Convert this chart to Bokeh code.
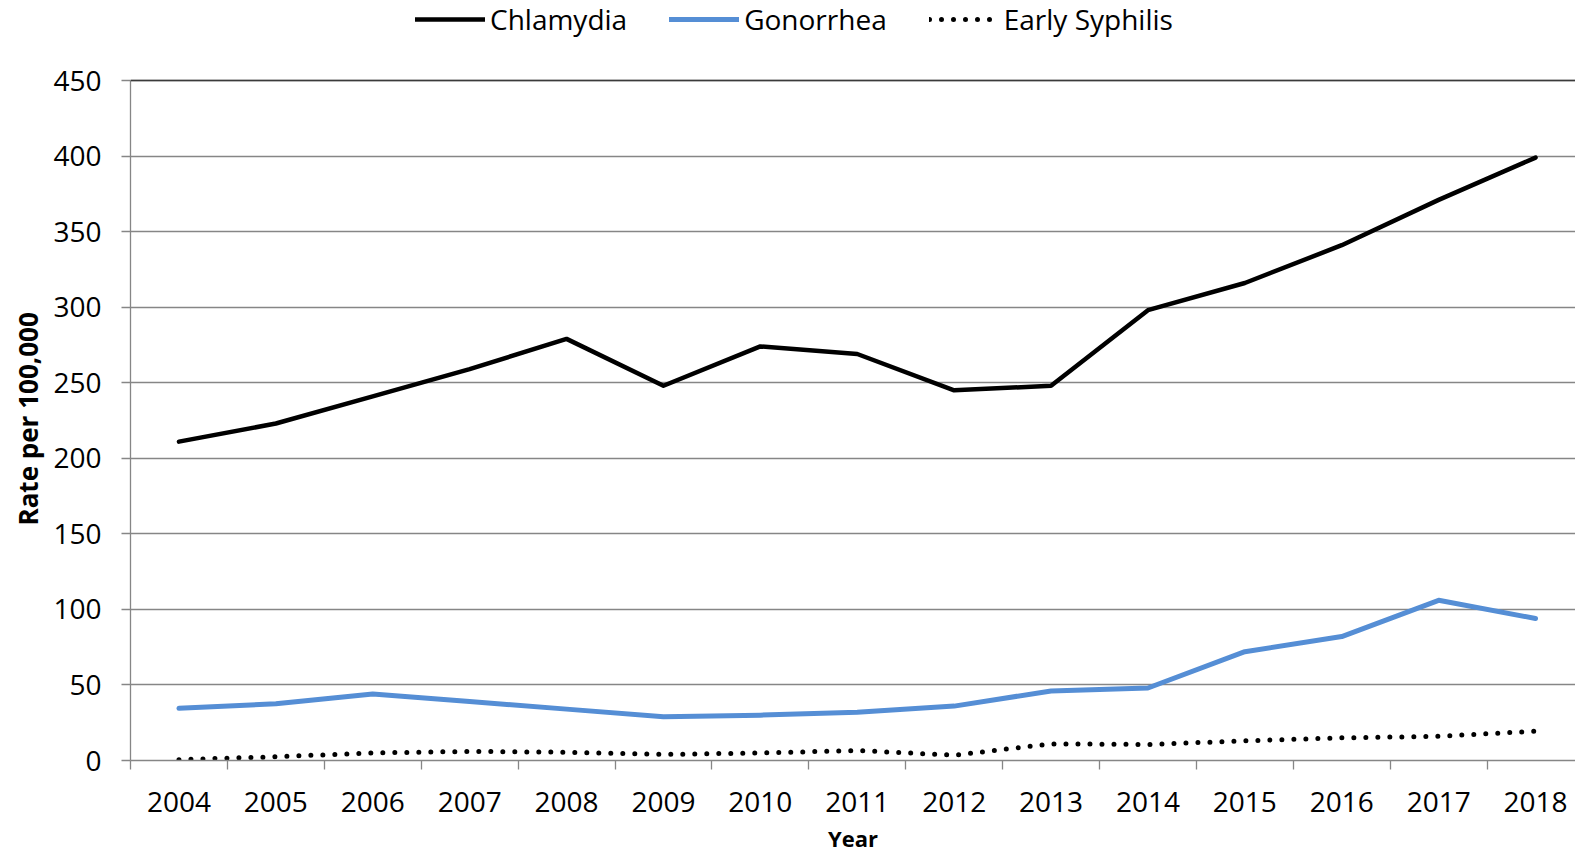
from bokeh.plotting import figure
from bokeh.models import Range1d, FixedTicker, Span, Legend, LegendItem, Title
from bokeh.embed import file_html
from bokeh.resources import INLINE

years = [2004, 2005, 2006, 2007, 2008, 2009, 2010, 2011, 2012, 2013, 2014, 2015, 2016, 2017, 2018]
chlamydia = [211, 223, 241, 259, 279, 248, 274, 269, 245, 248, 298, 316, 341, 371, 399]
gonorrhea = [34.5, 37.5, 44, 39, 34, 29, 30, 32, 36, 46, 48, 72, 82, 106, 94]
syphilis = [0.5, 2.5, 5, 6, 5.5, 4, 5, 6.6, 3.5, 11, 10.6, 13, 15, 16, 19.4]
y_ticks = [0, 50, 100, 150, 200, 250, 300, 350, 400, 450]

FONT = "Open Sans"
GRID = "#868686"

# frame spans from the top of the figure; the band above 450 holds the legend
p = figure(width=1575, height=856, output_backend="svg", toolbar_location=None,
           x_range=Range1d(years[0] - 0.5, years[0] - 0.5 + 1445 / 96.9),
           y_range=Range1d(0, 450 * 760 / 680),
           min_border_left=130, min_border_right=0, min_border_top=0, min_border_bottom=96)
p.outline_line_color = None
p.background_fill_color = "white"

r1 = p.line(years, chlamydia, line_color="black", line_width=4.5, line_join="round", line_cap="round")
r2 = p.line(years, gonorrhea, line_color="#558ED5", line_width=5, line_join="round", line_cap="round")
r3 = p.line(years, syphilis, line_color="black", line_width=5, line_dash="0 12", line_cap="round")

p.add_layout(Span(location=450, dimension="width", line_color="#3a3a3a", line_width=1.5))

# x axis
xa = p.xaxis[0]
xa.ticker = FixedTicker(ticks=years, minor_ticks=[y - 0.5 for y in years] + [years[-1] + 0.5])
xa.major_tick_out = 0
xa.major_tick_in = 0
xa.minor_tick_out = 9
xa.minor_tick_in = 0
xa.minor_tick_line_color = GRID
xa.minor_tick_line_width = 1.3
xa.axis_line_color = GRID
xa.axis_line_width = 1.3
xa.major_label_text_font = FONT
xa.major_label_text_font_size = "28px"
xa.major_label_text_color = "black"
xa.major_label_standoff = 22
xa.axis_label = "Year"
xa.axis_label_text_font = FONT
xa.axis_label_text_font_size = "22px"
xa.axis_label_text_font_style = "bold"
xa.axis_label_text_color = "black"
xa.axis_label_standoff = 8

# y axis
ya = p.yaxis[0]
ya.bounds = (0, 450)
ya.ticker = FixedTicker(ticks=y_ticks, minor_ticks=[])
ya.major_tick_out = 9
ya.major_tick_in = 0
ya.major_tick_line_color = GRID
ya.major_tick_line_width = 1.3
ya.axis_line_color = GRID
ya.axis_line_width = 1.3
ya.major_label_text_font = FONT
ya.major_label_text_font_size = "28px"
ya.major_label_text_color = "black"
ya.major_label_standoff = 20

# y-axis title, centred on the 0..450 part of the frame
p.add_layout(Title(text="Rate per 100,000", align="left", offset=235, standoff=10,
                   text_font=FONT, text_font_size="26px", text_font_style="bold",
                   text_color="black"), "left")

p.xgrid.grid_line_color = None
p.ygrid.ticker = FixedTicker(ticks=y_ticks)
p.ygrid.grid_line_color = GRID
p.ygrid.grid_line_width = 1.3

legend = Legend(items=[LegendItem(label="Chlamydia", renderers=[r1]),
                       LegendItem(label="Gonorrhea", renderers=[r2]),
                       LegendItem(label="Early Syphilis", renderers=[r3])],
                orientation="horizontal", location=(285, 722),
                glyph_width=70, glyph_height=30, label_height=30, label_standoff=5, spacing=42,
                padding=0, margin=0, border_line_color=None, background_fill_alpha=0,
                label_text_font=FONT, label_text_font_size="28px", label_text_color="black")
p.add_layout(legend, "center")

open("out.html", "w").write(file_html(p, INLINE))
